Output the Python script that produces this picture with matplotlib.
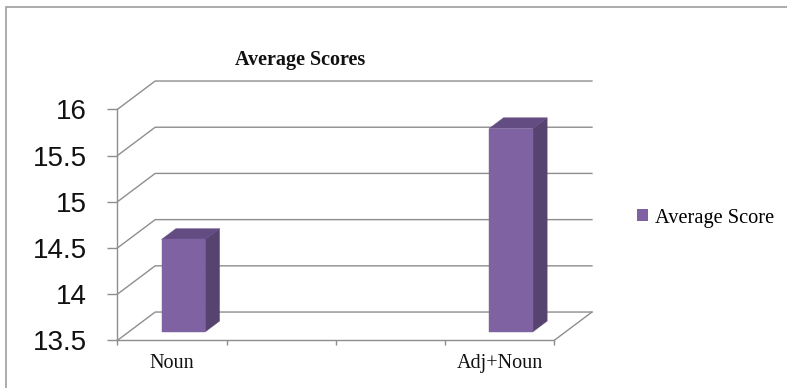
import numpy as np
import matplotlib
matplotlib.use("Agg")
import matplotlib.pyplot as plt
from matplotlib.patches import Polygon, Rectangle, Patch

categories = ["Noun", "Adj+Noun"]
scores = [14.5, 15.7]
series_name = "Average Score"
title = "Average Scores"
yticks = [13.5, 14, 14.5, 15, 15.5, 16]

# four category slots on the floor, the two groups sit in the outer ones
n_slots = 4
slots = np.linspace(0, n_slots - 1, len(categories))

FRONT = "#7e62a1"
SIDE = "#56436f"
TOP = "#624c82"
GRID = "#8e8e8e"

# shift of the back wall relative to the front plane, in data units
DX = 0.345
DY = 0.306


def proj(x, v, d):
    # d = 0 front plane, d = 1 back wall
    return (x + d * DX, v + d * DY)


fig = plt.figure(figsize=(7.87, 3.88), dpi=100)
ax = fig.add_axes([0.1493, 0.1229, 0.555, 0.5954])
ax.set_xlim(-0.5, n_slots - 0.5)
ax.set_ylim(yticks[0], yticks[-1])

# outer chart frame
fig.add_artist(Rectangle((5.7 / 787, -0.1), 1.2, 1 - 7.3 / 388 + 0.1,
                         transform=fig.transFigure, fill=False,
                         ec="#a6a6a6", lw=1.3))

# side wall diagonals + back wall gridlines
xl, xr = -0.5, n_slots - 0.5
for v in yticks:
    pts = [proj(xl, v, 0), proj(xl, v, 1), proj(xr, v, 1)]
    ax.plot([p[0] for p in pts], [p[1] for p in pts], color=GRID, lw=1,
            clip_on=False, zorder=1)
# right edge of the floor
pts = [proj(xr, yticks[0], 0), proj(xr, yticks[0], 1)]
ax.plot([p[0] for p in pts], [p[1] for p in pts], color=GRID, lw=1,
        clip_on=False, zorder=1)

# 3d columns
base = yticks[0]
d0, d1 = 0.3, 0.68
for xc, val in zip(slots, scores):
    x0, x1 = xc - 0.2, xc + 0.2
    front = [proj(x0, base, d0), proj(x1, base, d0), proj(x1, val, d0), proj(x0, val, d0)]
    side = [proj(x1, base, d0), proj(x1, base, d1), proj(x1, val, d1), proj(x1, val, d0)]
    top = [proj(x0, val, d0), proj(x1, val, d0), proj(x1, val, d1), proj(x0, val, d1)]
    for poly, col in ((side, SIDE), (top, TOP), (front, FRONT)):
        ax.add_patch(Polygon(poly, closed=True, fc=col, ec=col, lw=0.3,
                             clip_on=False, zorder=3))

for s in ("top", "right"):
    ax.spines[s].set_visible(False)
for s in ("left", "bottom"):
    ax.spines[s].set_color(GRID)
    ax.spines[s].set_linewidth(1)

ax.set_yticks(yticks)
ax.set_yticklabels([f"{v:g}" for v in yticks])
ax.tick_params(axis="y", direction="out", length=7.2, width=1, color=GRID,
               pad=15, labelsize=20, labelfontfamily="Liberation Sans",
               labelcolor="#111111")

ax.set_xticks(np.arange(-0.5, n_slots, 1.0))
ax.set_xticklabels([])
ax.set_xticks(slots, minor=True)
ax.set_xticklabels(categories, minor=True)
ax.tick_params(axis="x", which="major", direction="out", length=3.6,
               width=1, color=GRID)
ax.tick_params(axis="x", which="minor", length=0, pad=10, labelsize=14.5,
               labelfontfamily="Liberation Serif", labelcolor="#111111")

fig.text(300 / 787, 1 - 60 / 388, title, ha="center", va="center",
         fontweight="bold", family="Liberation Serif", size=14.5,
         color="#111111")

fig.legend(handles=[Patch(facecolor=FRONT, label=series_name)],
           loc="center left", bbox_to_anchor=(637 / 787, 1 - 218 / 388),
           frameon=False, borderpad=0, borderaxespad=0,
           handlelength=0.55, handleheight=0.55, handletextpad=0.35,
           prop={"family": "Liberation Serif", "size": 14.7})

fig.savefig("out.png", dpi=100)
